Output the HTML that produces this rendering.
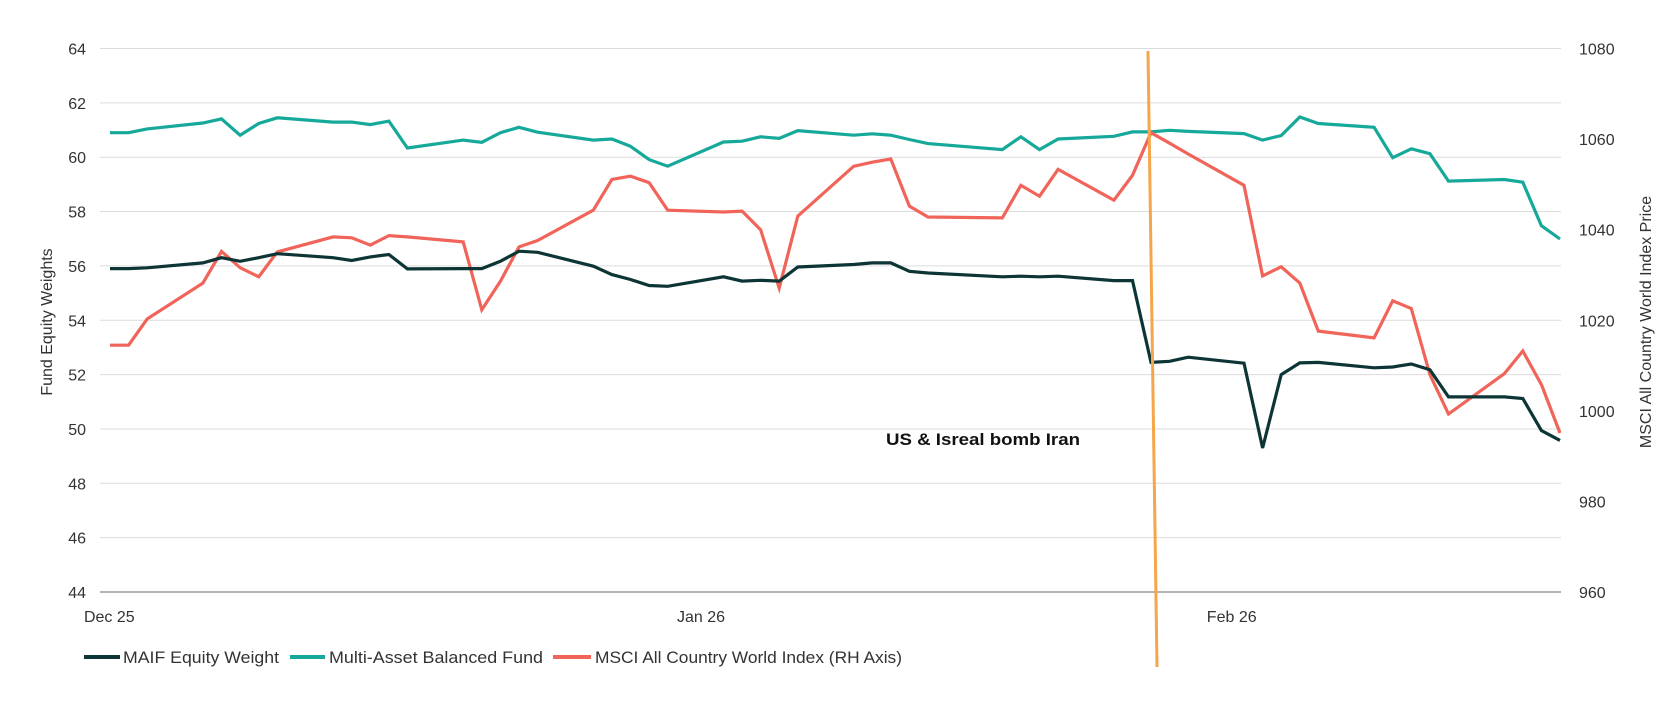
<!DOCTYPE html>
<html><head><meta charset="utf-8"><style>
html,body{margin:0;padding:0;background:#fff;}
svg{display:block;font-family:"Liberation Sans",Arial,sans-serif;}
</style></head><body>
<svg id="chart" width="1675" height="708" viewBox="0 0 1675 708">
<g id="grid"></g>
<g id="lticks"></g>
<g id="rticks"></g>
<g id="xticks"></g>
<text x="0" y="0" transform="translate(52,322) rotate(-90)" text-anchor="middle" font-size="16" fill="#333">Fund Equity Weights</text>
<text x="0" y="0" transform="translate(1651,322) rotate(-90)" text-anchor="middle" font-size="16" fill="#333">MSCI All Country World Index Price</text>
<g id="series"></g>
<line x1="1148" y1="51" x2="1157" y2="667" stroke="#f5a54a" stroke-width="3"/>
<text x="886" y="445" font-size="17" font-weight="bold" fill="#111" textLength="194" lengthAdjust="spacingAndGlyphs">US &amp; Isreal bomb Iran</text>
<g>
<g><line x1="84" y1="657" x2="120" y2="657" stroke="#0d3535" stroke-width="4"/><text x="123" y="663" font-size="17" fill="#333" textLength="156" lengthAdjust="spacingAndGlyphs">MAIF Equity Weight</text></g>
<g><line x1="290" y1="657" x2="325" y2="657" stroke="#16a99a" stroke-width="4"/><text x="329" y="663" font-size="17" fill="#333" textLength="214" lengthAdjust="spacingAndGlyphs">Multi-Asset Balanced Fund</text></g>
<g><line x1="553" y1="657" x2="591" y2="657" stroke="#f0645a" stroke-width="4"/><text x="595" y="663" font-size="17" fill="#333" textLength="307" lengthAdjust="spacingAndGlyphs">MSCI All Country World Index (RH Axis)</text></g>
</g>
</svg>
<script>
const days = [0,1,2,5,6,7,8,9,12,13,14,15,16,19,20,21,22,23,26,27,28,29,30,33,34,35,36,37,40,41,42,43,44,48,49,50,51,54,55,56,57,58,61,62,63,64,65,68,69,70,71,72,75,76,77,78];
const maif = [55.9,55.9,55.93,56.11,56.3,56.17,56.3,56.45,56.3,56.2,56.33,56.42,55.89,55.9,55.9,56.17,56.54,56.5,55.99,55.68,55.5,55.28,55.25,55.6,55.44,55.47,55.44,55.96,56.05,56.11,56.11,55.8,55.74,55.6,55.62,55.6,55.62,55.46,55.46,52.45,52.49,52.64,52.42,49.3,52.0,52.43,52.45,52.25,52.28,52.39,52.18,51.18,51.18,51.12,49.94,49.58];
const balanced = [60.9,60.9,61.04,61.26,61.41,60.81,61.24,61.45,61.29,61.29,61.2,61.33,60.34,60.63,60.55,60.9,61.1,60.92,60.63,60.67,60.4,59.91,59.67,60.56,60.59,60.75,60.69,60.98,60.81,60.86,60.81,60.65,60.5,60.28,60.75,60.28,60.67,60.77,60.93,60.93,60.99,60.95,60.87,60.63,60.8,61.48,61.24,61.1,59.98,60.31,60.13,59.12,59.18,59.08,57.48,56.99];
const msci = [1014.5,1014.5,1020.3,1028.2,1035.2,1031.6,1029.6,1035.1,1038.4,1038.2,1036.6,1038.7,1038.4,1037.3,1022.3,1028.6,1036.2,1037.6,1044.3,1051.1,1051.8,1050.4,1044.3,1043.9,1044.1,1040.0,1027.1,1043.0,1054.0,1054.9,1055.6,1045.2,1042.8,1042.6,1049.8,1047.4,1053.3,1046.5,1052.0,1061.4,1059.1,1056.7,1049.8,1029.8,1031.8,1028.2,1017.6,1016.1,1024.3,1022.6,1008.0,999.3,1008.2,1013.2,1005.8,995.1];
const leftTicks = [44,46,48,50,52,54,56,58,60,62,64];
const rightTicks = [960,980,1000,1020,1040,1060,1080];
const xTickLabels = ["Dec 25","Jan 26","Feb 26"];
const xTickDays = [-1.4,30.5,59];

const NS="http://www.w3.org/2000/svg";
const X0=110, DX=18.59, YTOP=48.5, YBOT=592;
function xs(d){return X0+d*DX;}
function yl(v){return YBOT-(v-44)/20*(YBOT-YTOP);}
function yr(p){return YBOT-(p-960)/120*(YBOT-YTOP);}
function mk(tag,attrs,parent){const e=document.createElementNS(NS,tag);for(const k in attrs)e.setAttribute(k,attrs[k]);parent.appendChild(e);return e;}

const grid=document.getElementById('grid'), lt=document.getElementById('lticks'), rt=document.getElementById('rticks'), xt=document.getElementById('xticks'), ser=document.getElementById('series');
leftTicks.forEach(v=>{
  const g=mk('line',{x1:100,x2:1561,y1:yl(v),y2:yl(v),stroke:v===44?'#888':'#dcdcdc','stroke-width':v===44?1.3:1},grid);
  
  
  const t=mk('text',{x:86,y:yl(v)+6,'text-anchor':'end','font-size':16,fill:'#333'},lt);
  t.textContent=v;
  
  
});
rightTicks.forEach(p=>{
  const t=mk('text',{x:1579,y:yr(p)+6,'font-size':16,fill:'#333'},rt);
  t.textContent=p;
  
  
});
xTickLabels.forEach((s,i)=>{
  const t=mk('text',{x:xs(xTickDays[i]),y:622,'font-size':16,fill:'#333'},xt);
  t.textContent=s;
  
  
});
function line(vals,scale,color,name){
  const pts=vals.map((v,i)=>xs(days[i]).toFixed(1)+','+scale(v).toFixed(1)).join(' ');
  const p=mk('polyline',{points:pts,fill:'none',stroke:color,'stroke-width':3.2,'stroke-linejoin':'miter'},ser);
  
  
}
line(balanced,yl,'#16a99a','multi-asset-balanced-line');
line(msci,yr,'#f0645a','msci-acwi-line');
line(maif,yl,'#0d3535','maif-equity-weight-line');
</script>
</body></html>
